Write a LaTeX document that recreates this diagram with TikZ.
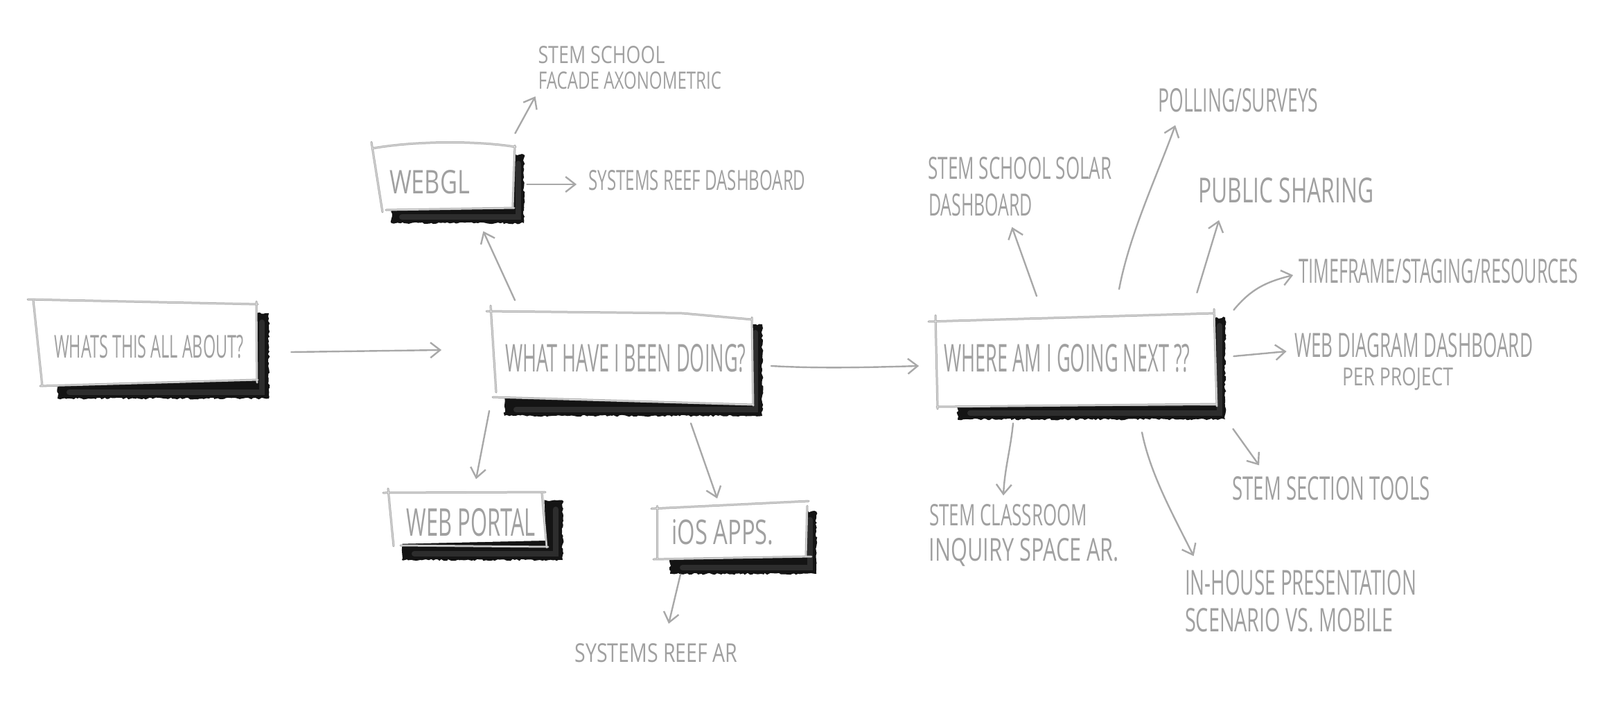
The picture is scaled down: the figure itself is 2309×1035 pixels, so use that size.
\documentclass[tikz,border=0pt]{standalone}
\usepackage{fontspec}
\setmainfont{Open Sans}
\usepackage{graphicx}
\usetikzlibrary{arrows.meta,decorations.pathmorphing}
\newlength\pxu
\setlength\pxu{0.5pt}
\newcommand\hw[3]{\resizebox{#1\pxu}{#2\pxu}{#3}}
\definecolor{txtc}{HTML}{A0A0A0}
\definecolor{arrc}{HTML}{A8A8A8}
\definecolor{edgec}{HTML}{A5A5A5}
\definecolor{edgehl}{HTML}{E6E6E6}
\tikzset{
  lbl/.style={inner sep=0pt, text=txtc, anchor=center},
  arr/.style={draw=arrc, line width=1.2pt, line cap=round, -{Straight Barb[length=7pt,width=11pt]}},
  shadowfill/.style={fill=black!92, decorate, decoration={random steps, segment length=1.6pt, amplitude=0.7pt}},
  glow/.style={draw=black!70, line width=4pt, line cap=round, opacity=0.45},
  paper/.style={fill=white},
  boxedge/.style={draw=edgec, line width=1.5pt, line cap=round},
  boxhl/.style={draw=edgehl, line width=0.5pt, line cap=round}
}
\begin{document}
\begin{tikzpicture}[x=0.5pt, y=-0.5pt]
\useasboundingbox (0,0) rectangle (2309,1035);

% ---------- shadows ----------
\fill[shadowfill] (83,452) rectangle (388,575);
\fill[shadowfill] (728,472) -- (1100,468) -- (1100,600) -- (728,600) -- cycle;
\fill[shadowfill] (565,223) rectangle (756,322);
\fill[shadowfill] (580,722) rectangle (812,808);
\fill[shadowfill] (967,740) -- (1178,738) -- (1178,828) -- (967,828) -- cycle;
\fill[shadowfill] (1382,478) -- (1768,458) -- (1768,605) -- (1382,605) -- cycle;
\draw[glow] (100,566) -- (378,566) -- (378,465);
\draw[glow] (745,591) -- (1090,591) -- (1090,480);
\draw[glow] (580,313) -- (748,313) -- (748,236);
\draw[glow] (598,799) -- (802,799) -- (802,735);
\draw[glow] (985,819) -- (1169,819) -- (1169,750);
\draw[glow] (1400,596) -- (1760,596) -- (1760,470);

% ---------- paper boxes ----------
\fill[paper] (48,433) -- (370,440) -- (372,549) -- (62,557) -- cycle;
\fill[paper] (710,448) -- (1085,460) -- (1087,583) -- (714,573) -- cycle;
\fill[paper] (537,213) -- (743,212) -- (741,300) -- (552,304) -- cycle;
\fill[paper] (560,712) -- (785,710) -- (788,780) -- (566,785) -- cycle;
\fill[paper] (946,733) -- (1166,723) -- (1163,803) -- (948,806) -- cycle;
\fill[paper] (1349,463) -- (1752,452) -- (1755,585) -- (1352,587) -- cycle;

% ---------- sketchy edges ----------
\foreach \s in {boxedge,boxhl}{
  % b1
  \draw[\s] (40,432) -- (372,439);
  \draw[\s] (370,435) -- (371,552);
  \draw[\s] (48,433) -- (61,557);
  \draw[\s] (58,557) -- (372,548);
  % b2
  \draw[\s] (702,449) -- (985,452) -- (1085,461);
  \draw[\s] (708,441) -- (716,566);
  \draw[\s] (1085,458) -- (1087,585);
  \draw[\s] (711,573) -- (1087,584);
  % b3
  \draw[\s] (538,214) .. controls (600,203) and (690,203) .. (744,212);
  \draw[\s] (536,205) -- (552,306);
  \draw[\s] (743,210) -- (740,299);
  \draw[\s] (557,303) -- (742,300);
  % b4
  \draw[\s] (553,711) -- (787,710);
  \draw[\s] (560,705) -- (568,788);
  \draw[\s] (782,711) -- (789,790);
  \draw[\s] (578,787) -- (791,789);
  % b5
  \draw[\s] (940,734) -- (1167,723);
  \draw[\s] (948,730) -- (948,806);
  \draw[\s] (1165,730) -- (1163,803);
  \draw[\s] (943,807) -- (1171,803);
  % b6
  \draw[\s] (1340,464) -- (1752,452);
  \draw[\s] (1350,455) -- (1353,590);
  \draw[\s] (1752,446) -- (1756,586);
  \draw[\s] (1352,587) -- (1756,583);
}

% ---------- box texts ----------
\node[lbl] (b1) at (215,500) {\hw{274}{33}{WHATS THIS ALL ABOUT?}};
\node[lbl] (b2) at (903,517) {\hw{347}{40}{WHAT HAVE I BEEN DOING?}};
\node[lbl] (b3) at (620,263) {\hw{116}{34}{WEBGL}};
\node[lbl] (b4) at (680,754) {\hw{186}{40}{WEB PORTAL}};
\node[lbl] (b5) at (1043,768) {\hw{147}{36}{iOS APPS.}};
\node[lbl] (b6) at (1540,517) {\hw{355}{40}{WHERE AM I GOING NEXT ??}};

% ---------- free labels ----------
\node[lbl] (l1)  at (868,79)   {\hw{183}{25}{STEM SCHOOL}};
\node[lbl] (l1b) at (909,116)  {\hw{264}{25}{FACADE AXONOMETRIC}};
\node[lbl] (l2)  at (1006,260) {\hw{313}{29}{SYSTEMS REEF DASHBOARD}};
\node[lbl] (l3)  at (947,942)  {\hw{235}{27}{SYSTEMS REEF AR}};
\node[lbl] (l4)  at (1472,243) {\hw{265}{32}{STEM SCHOOL SOLAR}};
\node[lbl] (l4b) at (1415,296) {\hw{150}{32}{DASHBOARD}};
\node[lbl] (l5)  at (1787,145) {\hw{231}{34}{POLLING/SURVEYS}};
\node[lbl] (l6)  at (1856,275) {\hw{253}{36}{PUBLIC SHARING}};
\node[lbl] (l7)  at (2076,391) {\hw{403}{35}{TIMEFRAME/STAGING/RESOURCES}};
\node[lbl] (l8)  at (2040,498) {\hw{344}{35}{WEB DIAGRAM DASHBOARD}};
\node[lbl] (l8b) at (2017,547) {\hw{160}{26}{PER PROJECT}};
\node[lbl] (l9)  at (1921,705) {\hw{285}{34}{STEM SECTION TOOLS}};
\node[lbl] (l10) at (1877,841) {\hw{334}{36}{IN-HOUSE PRESENTATION}};
\node[lbl] (l10b) at (1860,895) {\hw{300}{34}{SCENARIO VS. MOBILE}};
\node[lbl] (l11) at (1455,743) {\hw{228}{31}{STEM CLASSROOM}};
\node[lbl] (l11b) at (1478,797) {\hw{274}{33}{INQUIRY SPACE AR.}};

% ---------- connectors ----------
\draw[arr] ([shift={(68,8)}]b1.east) -- ([shift={(-92,-12)}]b2.west);
\draw[arr] ([shift={(14,-63)}]b2.north west) -- ([shift={(19,53)}]b3.south east);
\draw[arr] ([shift={(-23,55)}]b2.south west) -- ([shift={(7,-42)}]b4.north);
\draw[arr] ([shift={(94,73)}]b2.south) -- ([shift={(-8,-30)}]b5.north);
\draw[arr] ([shift={(-61,42)}]b5.south) -- ([shift={(18,-28)}]l3.north);
\draw[arr] ([shift={(36,11)}]b2.east) .. controls +(70,4) and +(-70,2) .. ([shift={(-36,11)}]b6.west);
\draw[arr] ([shift={(65,-53)}]b3.north east) -- ([shift={(-4,10)}]l1b.south west);
\draw[arr] ([shift={(82,3)}]b3.east) -- ([shift={(-17,6)}]l2.west);

\draw[arr] ([shift={(-44,-69)}]b6.north) -- ([shift={(-30,15)}]l4b.south east);
\draw[arr] ([shift={(75,-79)}]b6.north) .. controls +(15,-80) and +(-25,70) .. ([shift={(25,18)}]l5.south west);
\draw[arr] ([shift={(9.5,-74)}]b6.north east) -- ([shift={(30,24)}]l6.south west);
\draw[arr] ([shift={(62.5,-49)}]b6.north east) .. controls +(25,-30) and +(-40,10) .. ([shift={(-8,6)}]l7.west);
\draw[arr] ([shift={(62.5,-3)}]b6.east) -- ([shift={(-11,9)}]l8.west);
\draw[arr] ([shift={(61.5,81)}]b6.south east) -- ([shift={(39,-16)}]l9.north west);
\draw[arr] ([shift={(108,86)}]b6.south) .. controls +(12,60) and +(-30,-60) .. ([shift={(13,-20)}]l10.north west);
\draw[arr] ([shift={(-78,73)}]b6.south) .. controls +(-4,40) and +(2,-40) .. ([shift={(-7,-12)}]l11.north);
\end{tikzpicture}
\end{document}
